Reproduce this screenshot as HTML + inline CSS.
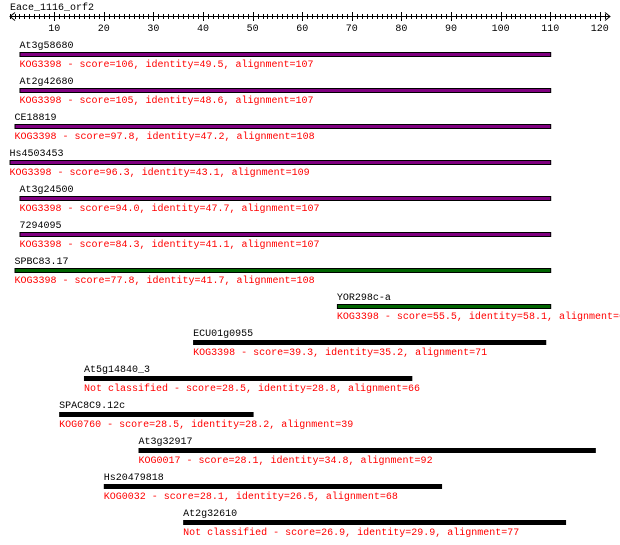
<!DOCTYPE html>
<html><head><meta charset="utf-8"><style>
html,body{margin:0;padding:0;background:#fff;}
svg{display:block;font-family:"Liberation Mono",monospace;font-size:10px;}
</style></head><body>
<svg id="chart" width="620" height="545" viewBox="0 0 620 545" xmlns="http://www.w3.org/2000/svg">
<text x="10" y="10" fill="#000">Eace_1116_orf2</text>
<g id="axis"></g>
<g id="rows"></g>
</svg>
<script>
const names=["At3g58680","At2g42680","CE18819","Hs4503453","At3g24500","7294095","SPBC83.17","YOR298c-a","ECU01g0955","At5g14840_3","SPAC8C9.12c","At3g32917","Hs20479818","At2g32610"];
const starts=[3,3,2,1,3,3,2,67,38,16,11,27,20,36];
const ends=[110,110,110,110,110,110,110,110,109,82,50,119,88,113];
const classes=["KOG3398","KOG3398","KOG3398","KOG3398","KOG3398","KOG3398","KOG3398","KOG3398","KOG3398","Not classified","KOG0760","KOG0017","KOG0032","Not classified"];
const scores=["106","105","97.8","96.3","94.0","84.3","77.8","55.5","39.3","28.5","28.5","28.1","28.1","26.9"];
const identities=["49.5","48.6","47.2","43.1","47.7","41.1","41.7","58.1","35.2","28.8","28.2","34.8","26.5","29.9"];
const alignments=["107","107","108","109","107","107","108","61","71","66","39","92","68","77"];
const colors=["#800080","#800080","#800080","#800080","#800080","#800080","#006400","#006400","#000","#000","#000","#000","#000","#000"];
const tickLabels=[10,20,30,40,50,60,70,80,90,100,110,120];
const NS="http://www.w3.org/2000/svg";
const xs=v=>4.6+4.96*v;
function mk(t,a,p){const e=document.createElementNS(NS,t);for(const k in a)e.setAttribute(k,a[k]);p.appendChild(e);return e;}
const ax=document.getElementById('axis');
let l=mk('line',{x1:10,y1:16.5,x2:610,y2:16.5,stroke:'#000'},ax);


mk('path',{d:'M15,12.5 L10,16.5 L15,20.5 M605,12.5 L610,16.5 L605,20.5',stroke:'#000',fill:'none'},ax);
for(let v=1;v<=121;v++){const x=Math.round(xs(v))+0.5;if(x>606)break;const maj=v%10===0;
 const t=mk('line',{x1:x,y1:maj?12:14,x2:x,y2:maj?21:19,stroke:'#000'},ax);
 
 }
tickLabels.forEach(v=>{const t=mk('text',{x:xs(v),y:31,'text-anchor':'middle',fill:'#000'},ax);t.textContent=v;
 
 });
const rows=document.getElementById('rows');
names.forEach((n,i)=>{const by=52+36*i;const x0=xs(starts[i]),x1=xs(ends[i]);
 const g=mk('g',{},rows);
 
 
 const nm=mk('text',{x:x0,y:by-4,fill:'#000'},g);nm.textContent=n;
 
 
 const r=mk('rect',{x:x0+0.5,y:by+0.5,width:x1-x0,height:4,fill:colors[i],stroke:'#000'},g);
 
 
 const d=mk('text',{x:x0,y:by+15,fill:'#f00'},g);
 d.textContent=classes[i]+' - score='+scores[i]+', identity='+identities[i]+', alignment='+alignments[i];
 
 });
</script>
</body></html>
